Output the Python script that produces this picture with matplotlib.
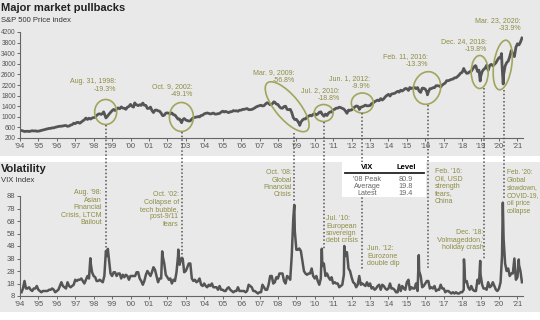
import pandas as pd
import matplotlib
matplotlib.use('Agg')
import matplotlib.pyplot as plt
from matplotlib.patches import Ellipse, Rectangle
from matplotlib.lines import Line2D
from matplotlib.transforms import ScaledTranslation

plt.rcParams['font.family'] = ['Liberation Sans', 'DejaVu Sans']

# S&P 500 month-end levels, Jan 1994 - Mar 2021
spx_monthly = [
    482, 467, 446, 451, 457, 444, 458, 475, 463, 472, 454, 459,
    470, 487, 500, 515, 533, 545, 562, 562, 584, 582, 605, 616,
    636, 640, 646, 654, 669, 671, 640, 652, 687, 705, 757, 741,
    786, 791, 757, 801, 848, 885, 954, 899, 947, 915, 955, 970,
    980, 1049, 1102, 1112, 1091, 1134, 1121, 957, 1017, 1099, 1164, 1229,
    1280, 1238, 1286, 1335, 1302, 1373, 1329, 1320, 1283, 1363, 1389, 1469,
    1394, 1366, 1499, 1452, 1421, 1455, 1431, 1518, 1437, 1429, 1315, 1320,
    1366, 1240, 1160, 1249, 1256, 1224, 1211, 1134, 1041, 1060, 1139, 1148,
    1130, 1107, 1147, 1077, 1067, 990, 912, 916, 815, 886, 936, 880,
    856, 841, 848, 917, 964, 975, 990, 1008, 996, 1051, 1058, 1112,
    1131, 1145, 1126, 1107, 1121, 1141, 1102, 1104, 1115, 1130, 1174, 1212,
    1181, 1204, 1181, 1157, 1192, 1191, 1234, 1220, 1229, 1207, 1249, 1248,
    1280, 1281, 1295, 1311, 1270, 1270, 1277, 1304, 1336, 1378, 1401, 1418,
    1438, 1407, 1421, 1482, 1531, 1503, 1455, 1474, 1527, 1549, 1481, 1468,
    1379, 1331, 1323, 1386, 1400, 1280, 1267, 1283, 1166, 969, 896, 903,
    826, 735, 798, 873, 919, 919, 987, 1021, 1057, 1036, 1096, 1115,
    1074, 1104, 1169, 1187, 1089, 1031, 1102, 1049, 1141, 1183, 1181, 1258,
    1286, 1327, 1326, 1364, 1345, 1321, 1292, 1219, 1131, 1253, 1247, 1258,
    1312, 1366, 1408, 1398, 1310, 1362, 1379, 1407, 1441, 1412, 1416, 1426,
    1498, 1515, 1569, 1598, 1631, 1606, 1686, 1633, 1682, 1757, 1806, 1848,
    1783, 1859, 1872, 1884, 1924, 1960, 1931, 2003, 1972, 2018, 2068, 2059,
    1995, 2105, 2068, 2086, 2107, 2063, 2104, 1972, 1920, 2079, 2080, 2044,
    1940, 1932, 2060, 2065, 2097, 2099, 2174, 2171, 2168, 2126, 2199, 2239,
    2279, 2364, 2363, 2384, 2412, 2423, 2470, 2472, 2519, 2575, 2648, 2674,
    2824, 2714, 2641, 2648, 2705, 2718, 2816, 2902, 2914, 2712, 2760, 2507,
    2704, 2784, 2834, 2946, 2752, 2942, 2980, 2926, 2977, 3038, 3141, 3231,
    3226, 2954, 2585, 2912, 3044, 3100, 3271, 3500, 3363, 3270, 3622, 3756,
    3714, 3811, 3973,
]
spx_extra_dates = ['1998-07-17', '2000-03-24', '2002-10-09', '2007-10-09', '2009-03-09',
                   '2010-07-02', '2012-06-01', '2016-02-11', '2018-09-20', '2018-12-24',
                   '2020-02-19', '2020-03-23']
spx_extra_values = [1187, 1527, 777, 1565, 677, 1023, 1278, 1829, 2931, 2351, 3386, 2237]

# VIX monthly levels, Jan 1994 - Mar 2021
vix_monthly = [
    11, 14, 20, 14, 14, 15, 13, 12, 14, 14, 16, 13,
    12, 11, 12, 12, 12, 12, 13, 13, 14, 13, 11, 12,
    13, 16, 19, 16, 15, 14, 19, 16, 15, 16, 17, 21,
    20, 21, 21, 22, 20, 18, 21, 24, 22, 35, 27, 24,
    23, 20, 20, 21, 20, 19, 24, 44, 40, 37, 26, 24,
    27, 27, 24, 26, 26, 22, 25, 23, 25, 24, 21, 24,
    24, 24, 24, 27, 27, 22, 20, 17, 20, 25, 28, 26,
    24, 27, 31, 29, 24, 19, 22, 22, 40, 34, 25, 23,
    21, 22, 18, 21, 20, 27, 40, 33, 38, 38, 27, 28,
    31, 34, 34, 22, 20, 21, 19, 20, 22, 17, 16, 18,
    16, 15, 17, 16, 18, 15, 15, 15, 13, 16, 13, 13,
    12, 12, 14, 15, 13, 12, 11, 12, 12, 15, 12, 12,
    12, 12, 11, 12, 17, 16, 15, 12, 12, 11, 10, 11,
    11, 17, 15, 13, 13, 17, 24, 24, 18, 19, 23, 22,
    26, 26, 26, 20, 18, 24, 23, 21, 40, 70, 60, 45,
    45, 46, 44, 36, 28, 26, 25, 26, 26, 30, 24, 22,
    24, 20, 17, 22, 32, 34, 24, 26, 23, 21, 23, 18,
    19, 18, 18, 15, 16, 17, 25, 40, 43, 30, 28, 23,
    19, 18, 15, 17, 24, 17, 18, 17, 16, 19, 16, 18,
    14, 15, 13, 14, 16, 17, 13, 17, 16, 14, 13, 14,
    18, 14, 14, 13, 11, 11, 17, 12, 16, 14, 13, 19,
    21, 13, 15, 14, 14, 18, 12, 28, 24, 15, 16, 18,
    20, 20, 14, 15, 14, 16, 12, 13, 13, 17, 14, 14,
    11, 12, 12, 11, 10, 11, 10, 11, 10, 10, 11, 11,
    13, 19, 20, 15, 13, 16, 13, 12, 12, 21, 18, 25,
    17, 14, 14, 13, 19, 15, 16, 19, 16, 13, 12, 14,
    19, 40, 54, 34, 28, 30, 24, 26, 26, 38, 21, 23,
    33, 28, 19,
]
vix_extra_dates = ['1997-10-27', '1998-10-08', '2001-09-20', '2002-08-05', '2008-11-20',
                   '2010-05-20', '2011-08-08', '2015-08-24', '2018-02-05', '2018-12-24',
                   '2020-03-16', '2021-01-27']
vix_extra_values = [38.2, 45.7, 43.7, 45.1, 80.9, 45.8, 48.0, 40.7, 37.3, 36.1, 82.7, 37.2]

# pullback annotations (top panel)
pullback_labels = ['Aug. 31, 1998:\n-19.3%', 'Oct. 9, 2002:\n-49.1%', 'Mar. 9, 2009:\n-56.8%',
                   'Jul. 2, 2010:\n-18.8%', 'Jun. 1, 2012:\n-9.9%', 'Feb. 11, 2016:\n-13.3%',
                   'Dec. 24, 2018:\n-19.8%', 'Mar. 23, 2020:\n-33.9%']
# volatility event annotations (bottom panel)
vix_labels = ["Aug. '98:\nAsian\nFinancial\nCrisis, LTCM\nBailout",
              "Oct. '02:\nCollapse of\ntech bubble,\npost-9/11\nfears",
              "Oct. '08:\nGlobal\nFinancial\nCrisis",
              "Jul. '10:\nEuropean\nsovereign\ndebt crisis",
              "Jun. '12:\nEurozone\ndouble dip",
              "Feb. '16:\nOil, USD\nstrength\nfears,\nChina",
              "Dec. '18:\n'Volmageddon,'\nholiday crash",
              "Feb. '20:\nGlobal\nslowdown,\nCOVID-19,\noil price\ncollapse"]
event_years = [1998.66, 2002.77, 2008.85, 2010.5, 2012.55, 2016.15, 2019.2, 2020.25]

table_header = ['VIX', 'Level']
table_rows = ["'08 Peak", 'Average', 'Latest']
table_values = ['80.9', '19.8', '19.4']

years = list(range(1994, 2022))
year_labels = ['\u2019%02d' % (y % 100) for y in years]

GRAY_BG = '#e9e9e9'
LINE = '#555555'
OLIVE = '#8e8c45'
RING = '#a2a55c'
TICK = '#555555'
W, H = 540, 320


def dec_year(idx):
    return idx.year + (idx.dayofyear - 1) / 365.25


def build(monthly, extra_dates, extra_values):
    s1 = pd.Series(monthly, index=pd.date_range('1994-01-31', periods=len(monthly), freq='ME'))
    s2 = pd.Series(extra_values, index=pd.to_datetime(extra_dates))
    s = pd.concat([s1, s2]).sort_index()
    return dec_year(s.index), s.values


def px(x, y):
    return x / W, 1 - y / H


fig = plt.figure(figsize=(5.4, 3.2), dpi=100)
fig.patches.append(Rectangle(px(0, 156), 1, 156 / H, transform=fig.transFigure,
                             facecolor=GRAY_BG, edgecolor='none', zorder=-5))
fig.patches.append(Rectangle(px(0, 312), 1, 150 / H, transform=fig.transFigure,
                             facecolor=GRAY_BG, edgecolor='none', zorder=-5))

ax_top = fig.add_axes([20 / W, 1 - 138 / H, 503 / W, 106 / H])
ax_bot = fig.add_axes([20 / W, 1 - 296 / H, 503 / W, 100 / H])

for ax in (ax_top, ax_bot):
    ax.set_facecolor('none')
    ax.set_xlim(1994.0, 2021.3)
    for side in ('top', 'right'):
        ax.spines[side].set_visible(False)
    for side in ('left', 'bottom'):
        ax.spines[side].set_color('#666666')
        ax.spines[side].set_linewidth(0.8)
    ax.set_xticks(years)
    ax.set_xticklabels(year_labels)
    ax.tick_params(labelsize=5.5, colors=TICK, length=2, width=0.6, pad=1.5)

sx, sy = build(spx_monthly, spx_extra_dates, spx_extra_values)
ax_top.plot(sx, sy, color=LINE, lw=2.0)
ax_top.set_ylim(200, 4200)
ax_top.set_yticks(range(200, 4201, 400))
ax_top.tick_params(axis='y', labelsize=4.8, pad=1)

vx, vy = build(vix_monthly, vix_extra_dates, vix_extra_values)
ax_bot.plot(vx, vy, color=LINE, lw=1.8)
ax_bot.set_ylim(8, 88)
ax_bot.set_yticks(range(8, 89, 10))

# titles
fig.text(*px(1, 8), 'Major market pullbacks', fontsize=8, fontweight='bold', va='center', color='#222222')
fig.text(*px(1, 20), 'S&P 500 Price index', fontsize=5.5, va='center', color='#333333')
fig.text(*px(1, 169), 'Volatility', fontsize=8, fontweight='bold', va='center', color='#222222')
fig.text(*px(1, 181), 'VIX Index', fontsize=5.5, va='center', color='#333333')

# rings around pullbacks: center (year, level), size in px, angle
rings = [(1998.65, 1181, 22, 25, 0), (2002.76, 993, 24, 29, 0), (2008.5, 1380, 62, 24, -50),
         (2010.48, 1143, 19, 17, 0), (2012.58, 1521, 22, 20, 0), (2016.09, 2087, 27, 33, -15),
         (2018.95, 2691, 17, 33, 0), (2020.2, 2955, 18, 50, -8)]
for cx, cy, w, h, ang in rings:
    tr = fig.dpi_scale_trans + ScaledTranslation(cx, cy, ax_top.transData)
    fig.add_artist(Ellipse((0, 0), w / 100, h / 100, angle=ang, transform=tr,
                           fill=False, edgecolor=RING, lw=1.2))

# dotted connectors: start level on S&P, end level on VIX
line_tops = [690, 426, 389, 804, 1143, 1444, 2087, 2011]
line_bottoms = [46, 34, 83, 45, 29, 30, 37, 85]
inv = fig.transFigure.inverted()
for x, t, b in zip(event_years, line_tops, line_bottoms):
    p1 = inv.transform(ax_top.transData.transform((x, t)))
    p2 = inv.transform(ax_bot.transData.transform((x, b)))
    fig.add_artist(Line2D([p1[0], p2[0]], [p1[1], p2[1]], transform=fig.transFigure,
                          color=LINE, lw=1.1, linestyle=(0, (1, 1.4)), zorder=2))

top_pos = [(116, 78), (193, 83), (295, 69), (340, 87), (370, 75), (428, 53), (487, 38), (521, 17)]
for (x, y), s in zip(top_pos, pullback_labels):
    fig.text(*px(x, y), s, fontsize=5, color=OLIVE, ha='right', va='top',
             multialignment='right', linespacing=1.15)

bot_pos = [(102, 189, 'right'), (179, 191, 'right'), (292, 169, 'right'), (326, 215, 'left'),
           (367, 245, 'left'), (435, 168, 'left'), (484, 229, 'right'), (507, 169, 'left')]
for (x, y, ha), s in zip(bot_pos, vix_labels):
    fig.text(*px(x, y), s, fontsize=5 if x < 500 else 4.8, color=OLIVE, ha=ha, va='top',
             multialignment=ha, linespacing=1.1 if x < 500 else 1.15)

# VIX summary table (sits above the dotted connectors)
fig.patches.append(Rectangle(px(342, 197), 84 / W, 35 / H, transform=fig.transFigure,
                             facecolor='white', edgecolor='none', zorder=2.5))
fig.text(*px(367, 167.5), table_header[0], fontsize=5.5, fontweight='bold', ha='center', va='center')
fig.text(*px(406, 167.5), table_header[1], fontsize=5.5, fontweight='bold', ha='center', va='center')
fig.add_artist(Line2D([345 / W, 424 / W], [1 - 173 / H, 1 - 173 / H], transform=fig.transFigure,
                      color='#222222', lw=1.3, zorder=2.8))
for i, (r, v) in enumerate(zip(table_rows, table_values)):
    yy = 179.5 + 7 * i
    fig.text(*px(367, yy), r, fontsize=5.2, color='#666666', ha='center', va='center')
    fig.text(*px(406, yy), v, fontsize=5.2, color='#666666', ha='center', va='center')

fig.savefig('out.png', dpi=100)
